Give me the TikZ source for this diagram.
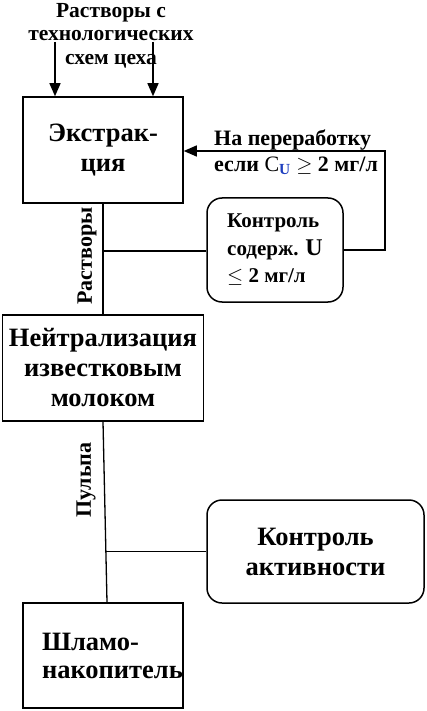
\documentclass[tikz,border=0pt]{standalone}
\usepackage{fontspec}
\setmainfont{Liberation Serif}
\usetikzlibrary{arrows.meta,calc}
\definecolor{ublue}{HTML}{1F3FBF}

\tikzset{
  box/.style={draw, line width=1.5pt, rectangle, inner sep=0pt,
    font=\bfseries\fontsize{26.5}{30}\selectfont, align=center},
  rbox/.style={box, rounded corners=15pt},
  pipe/.style={line width=1.3pt},
  feed/.style={line width=1.3pt, -{Triangle[length=13pt,width=11pt]}},
  sidelabel/.style={font=\bfseries\fontsize{22}{22}\selectfont, rotate=90, inner sep=0pt}
}

\begin{document}
\begin{tikzpicture}[x=1pt, y=-1pt]
  \useasboundingbox (0,0) rectangle (426,711);
  % incoming solutions
  \node[font=\bfseries\fontsize{21.5}{23.5}\selectfont, align=center, inner sep=0pt,
        anchor=north] (src) at (111,3)
    {Растворы с\\технологических\\схем цеха};
  % boxes
  \node[box, minimum width=160, minimum height=106] (extr) at (103,150)
    {\fontsize{26.5}{33}\selectfont Экстрак-\\ция};
  \node[rbox, minimum width=136, minimum height=104, align=left,
        font=\bfseries\fontsize{21}{27.5}\selectfont] (ctrlU) at (275,250)
    {Контроль\\содерж. {\fontsize{24}{24}\selectfont U}\\$\leq$ 2 мг/л};
  \node[box, minimum width=201, minimum height=106] (neut) at (103,368)
    {Нейтрализация\\известковым\\молоком};
  \node[rbox, minimum width=217, minimum height=103] (ctrlA) at (315.5,551.5)
    {Контроль\\активности};
  \node[box, minimum width=160, minimum height=105, align=left, text width=122,
        font=\bfseries\fontsize{26.5}{28}\selectfont] (slam) at (103,655.5)
    {Шламо-\\\mbox{накопитель}};
  % labels
  \node[anchor=west, align=left, inner sep=0pt,
        font=\bfseries\fontsize{22}{26}\selectfont] (retlbl) at (214,152)
    {На переработку\\если \textmd{C}\textsubscript{\textcolor{ublue}{U}} $\geq$ 2 мг/л};
  \node[sidelabel] (lblR) at (87,256) {Растворы};
  \node[sidelabel] (lblP) at (86,480) {Пульпа};
  % connectors
  \coordinate (inL) at (55,42);
  \coordinate (inR) at (153,42);
  \draw[feed] (inL) -- (inL |- extr.north);
  \draw[feed] (inR) -- (inR |- extr.north);
  \draw[pipe] (extr.south) -- (neut.north);
  \coordinate (tapU) at (103,251);
  \draw[pipe] (tapU) -- (tapU -| ctrlU.west);
  \coordinate (ret) at (385,151);
  \draw[feed] (ctrlU.east) -| (ret) -- (ret -| extr.east);
  \coordinate (slamIn) at ($(slam.north)+(4,0)$);
  \draw[pipe] (neut.south) -- (slamIn);
  \coordinate (tapA) at ($(neut.south)!0.72!(slamIn)$);
  \draw[pipe] (tapA) -- (tapA -| ctrlA.west);
\end{tikzpicture}
\end{document}
